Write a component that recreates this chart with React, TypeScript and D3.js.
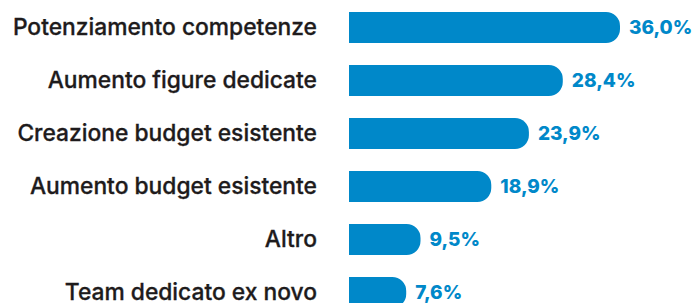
import React from "react";
import * as d3 from "d3";

const categories = [
  "Potenziamento competenze",
  "Aumento figure dedicate",
  "Creazione budget esistente",
  "Aumento budget esistente",
  "Altro",
  "Team dedicato ex novo",
];
const values = [36.0, 28.4, 23.9, 18.9, 9.5, 7.6];
const valueLabels = ["36,0%", "28,4%", "23,9%", "18,9%", "9,5%", "7,6%"];

const W = 694;
const H = 303;
const barX = 349;

export default function App() {
  const x = d3.scaleLinear().domain([0, 36]).range([0, 271]);
  const y = d3
    .scaleBand<string>()
    .domain(categories)
    .range([12, 308])
    .paddingInner(0.415)
    .paddingOuter(0);
  const bh = y.bandwidth();
  const r = 14;

  const barPath = (w: number, top: number) => {
    const rr = Math.min(r, w);
    const p = d3.path();
    p.moveTo(barX, top);
    p.lineTo(barX + w - rr, top);
    p.arcTo(barX + w, top, barX + w, top + rr, rr);
    p.lineTo(barX + w, top + bh - rr);
    p.arcTo(barX + w, top + bh, barX + w - rr, top + bh, rr);
    p.lineTo(barX, top + bh);
    p.closePath();
    return p.toString();
  };

  return (
    <div style={{ position: "fixed", left: 0, top: 0, width: W, height: H, background: "#fff" }}>
      <svg width={W} height={H} style={{ display: "block" }}>
        {categories.map((c, i) => {
          const top = y(c)!;
          const cy = top + bh / 2;
          const w = x(values[i]);
          return (
            <g key={c}>
              <text
                x={317}
                y={cy}
                dy="0.33em"
                textAnchor="end"
                fontFamily="Inter, 'Liberation Sans', sans-serif"
                fontWeight={500}
                fontSize={22.8}
                fill="#1e1b1c"
                stroke="#1e1b1c"
                strokeWidth={0.3}
              >
                {c}
              </text>
              <path d={barPath(w, top)} fill="#0088c9" />
              <text
                x={barX + w + 9}
                y={cy}
                dy="0.36em"
                fontFamily="Inter, 'Liberation Sans', sans-serif"
                fontWeight={800}
                fontSize={19}
                fill="#0088c9"
              >
                {valueLabels[i]}
              </text>
            </g>
          );
        })}
      </svg>
    </div>
  );
}
